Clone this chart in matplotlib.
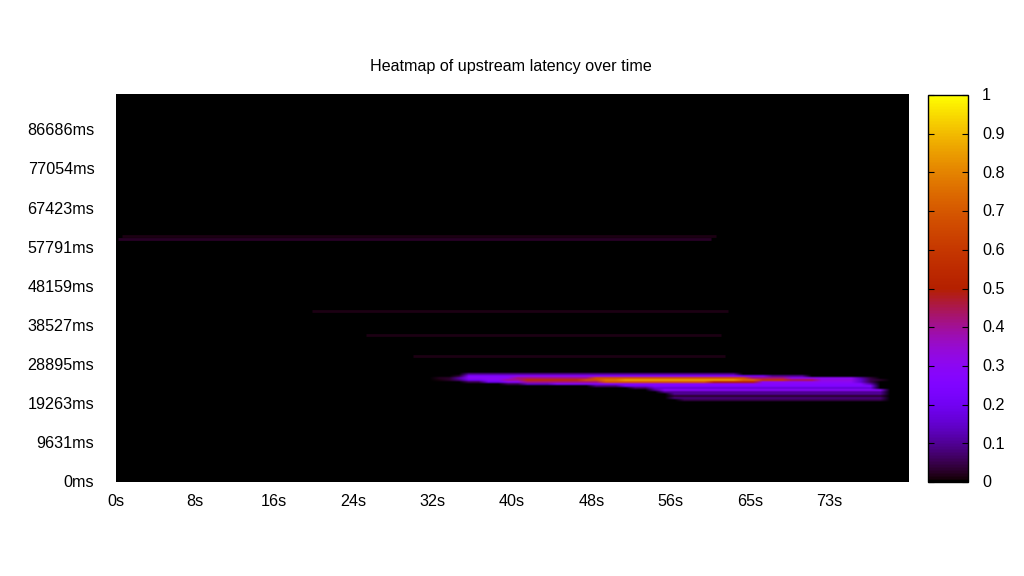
import numpy as np
import matplotlib
matplotlib.use("Agg")
import matplotlib.pyplot as plt
from matplotlib.transforms import ScaledTranslation

plt.rcParams['font.family'] = ['Liberation Sans', 'DejaVu Sans']

# axis labels
time_labels = ["0s", "8s", "16s", "24s", "32s", "40s", "48s", "56s", "65s", "73s"]
time_ticks = [0, 8.1, 16.2, 24.3, 32.4, 40.5, 48.6, 56.7, 64.8, 72.9]
latency_labels = ["0ms", "9631ms", "19263ms", "28895ms", "38527ms",
                  "48159ms", "57791ms", "67423ms", "77054ms", "86686ms"]
latency_ticks = [0, 9631, 19263, 28895, 38527, 48159, 57791, 67423, 77054, 86686]
bar_ticks = [0, 0.1, 0.2, 0.3, 0.4, 0.5, 0.6, 0.7, 0.8, 0.9, 1]
bar_labels = ["0", "0.1", "0.2", "0.3", "0.4", "0.5", "0.6", "0.7", "0.8", "0.9", "1"]

# the hot band: one list per latency bin, one value per second from 32s to 81s
first_second = 32
row_54 = [0] * 4 + [.1] * 28 + [0] * 18
row_53 = [0, 0, 0, .03] + [.25] * 5 + [.28] * 23 + [.2] * 3 + [.1] * 4 + [0] * 11
row_52 = [0, .02, .03, .12] + [.3] * 5 + [.42] * 8 + [.68] * 16 + [.42] * 4 + [.3] * 7 + [.12, .04] + [0] * 4
row_51 = ([0, .01, .03, .08] + [.2] * 2 + [.28] * 2 + [.4] * 2 + [.56] * 6 + [.68] * 2 + [.78] * 2
          + [.86] * 12 + [.75] * 2 + [.6] * 3 + [.45] * 3 + [.33] * 4 + [.15, .05, .03] + [0] * 3)
row_50 = ([0] * 4 + [.05] * 2 + [.18] * 2 + [.28] * 2 + [.42] * 8 + [.7] * 11 + [.5] * 5
          + [.3] * 10 + [.15, .05] + [0] * 4)
row_49 = [0] * 8 + [.05] * 2 + [.15] * 3 + [.25] * 8 + [.27] * 24 + [.12] + [0] * 4
row_48 = [0] * 17 + [.08] * 3 + [.2] * 3 + [.25] * 23 + [0] * 4
row_47 = [0] * 21 + [.06] * 2 + [.16] * 23 + [0] * 4
row_46 = [0] * 23 + [.1] + [.29] * 23 + [0] * 3
row_45 = [0] * 24 + [.1] * 23 + [0] * 3
row_44 = [0] * 25 + [.1] * 22 + [0] * 3
row_43 = [0] * 25 + [.03] * 22 + [0] * 3
row_42 = [0] * 25 + [.08] * 22 + [0] * 3
row_41 = [0] * 26 + [.05] * 21 + [0] * 3
band_rows = {54: row_54, 53: row_53, 52: row_52, 51: row_51, 50: row_50, 49: row_49, 48: row_48,
             47: row_47, 46: row_46, 45: row_45, 44: row_44, 43: row_43, 42: row_42, 41: row_41}

# faint single bin streaks
streak_latency = [59858, 60597, 42123, 36212, 31038]
streak_start = [0.2, 0.6, 20, 25.5, 30.3]
streak_end = [60.8, 61.3, 62.5, 61.8, 62.2]
streak_value = [0.025, 0.012, 0.012, 0.012, 0.012]

bin_ms = 492.6
n_rows = 194
n_cols = 81

z = np.zeros((n_rows, n_cols))
for row, values in band_rows.items():
    for i, v in enumerate(values):
        if first_second + i < n_cols:
            z[row, first_second + i] = v

fig = plt.figure(figsize=(10.24, 5.76), dpi=100)
ax = fig.add_axes([116 / 1024, 1 - 482 / 576, 793 / 1024, 388 / 576], facecolor='black')
img = ax.imshow(z, origin='lower', aspect='auto', cmap='gnuplot', vmin=0, vmax=1,
                interpolation='bilinear',
                extent=(-0.5, n_cols - 0.5, -bin_ms / 2, n_rows * bin_ms - bin_ms / 2))
cmap = plt.get_cmap('gnuplot')
for lat, a, b, v in zip(streak_latency, streak_start, streak_end, streak_value):
    ax.hlines(lat, a, b, color=cmap(v), lw=2.0)

ax.set_xlim(0, 81)
ax.set_ylim(0, 95570)
ax.set_xticks(time_ticks)
ax.set_xticklabels(time_labels)
ax.set_yticks(latency_ticks)
ax.set_yticklabels(latency_labels)
ax.tick_params(length=0, labelsize=11.6, pad=8.5)
ax.tick_params(axis='y', pad=15.5)
for s in ax.spines.values():
    s.set_visible(False)
ax.set_title("Heatmap of upstream latency over time", fontsize=11.6, pad=16.3)
ax.title.set_position((0.498, 1))

# nudge tick labels onto the reference positions
for label in ax.get_xticklabels():
    label.set_transform(label.get_transform() + ScaledTranslation(-0.5 / 100, 0, fig.dpi_scale_trans))
for label in ax.get_yticklabels():
    label.set_transform(label.get_transform() + ScaledTranslation(0, 0.7 / 100, fig.dpi_scale_trans))

cax = fig.add_axes([928 / 1024, 1 - 482 / 576, 40 / 1024, 387 / 576])
bar = fig.colorbar(img, cax=cax, ticks=bar_ticks)
bar.ax.set_yticklabels(bar_labels)
bar.ax.tick_params(direction='in', left=True, right=True, length=4, width=0.8,
                   labelsize=11.6, pad=10, color='black')
bar.outline.set_linewidth(1)
for label in bar.ax.get_yticklabels():
    label.set_transform(label.get_transform() + ScaledTranslation(0, 0.7 / 100, fig.dpi_scale_trans))

fig.savefig("out.png", dpi=100)
